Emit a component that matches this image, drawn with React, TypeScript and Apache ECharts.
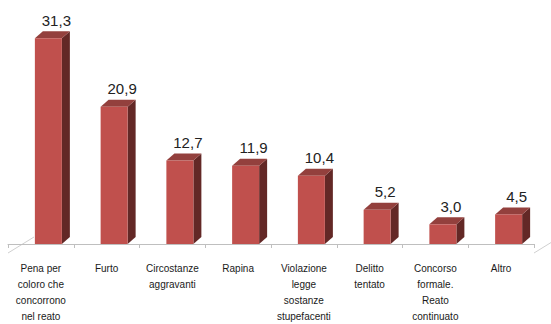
import React, { useEffect, useRef } from "react";
import * as echarts from "echarts";

const categories: string[] = [
  "Pena per\ncoloro che\nconcorrono\nnel reato",
  "Furto",
  "Circostanze\naggravanti",
  "Rapina",
  "Violazione\nlegge\nsostanze\nstupefacenti",
  "Delitto\ntentato",
  "Concorso\nformale.\nReato\ncontinuato",
  "Altro",
];
const values: number[] = [31.3, 20.9, 12.7, 11.9, 10.4, 5.2, 3.0, 4.5];

const FRONT = "#C0504D";
const TOP = "#93403D";
const SIDE = "#632826";

export default function App() {
  const ref = useRef<HTMLDivElement>(null);
  useEffect(() => {
    if (!ref.current) return;
    const chart = echarts.init(ref.current, null, { renderer: "svg" });
    const dx = 8;
    const dy = -7;
    const w = 27;
    chart.setOption({
      animation: false,
      backgroundColor: "#ffffff",
      grid: { left: 8, right: 17, top: 14, bottom: 76 },
      xAxis: {
        type: "category",
        data: categories,
        offset: 5,
        axisLine: { show: true, lineStyle: { color: "#bfbfbf", width: 1 } },
        axisTick: { show: true, length: 4, lineStyle: { color: "#bfbfbf" } },
        axisLabel: {
          interval: 0,
          margin: 11,
          fontSize: 10,
          lineHeight: 16,
          color: "#1a1a1a",
          fontFamily: "Liberation Sans, Arial, sans-serif",
        },
        splitLine: { show: false },
      },
      yAxis: {
        type: "value",
        min: 0,
        max: 35,
        show: false,
        splitLine: { show: false },
      },
      graphic: [
        {
          type: "line",
          shape: { x1: 8, y1: 253, x2: 34, y2: 237 },
          style: { stroke: "#d0d0d0", lineWidth: 1 },
        },
        {
          type: "line",
          shape: { x1: 534, y1: 253, x2: 560, y2: 237 },
          style: { stroke: "#d0d0d0", lineWidth: 1 },
        },
      ],
      series: [
        {
          type: "custom",
          data: values.map((v, i) => [i, v]),
          encode: { x: 0, y: 1 },
          renderItem: (params: any, api: any) => {
            const idx = api.value(0);
            const v = api.value(1);
            const base = api.coord([idx, 0]);
            const top = api.coord([idx, v]);
            const x0 = base[0] - 6;
            const x1 = x0 + w;
            const yt = top[1];
            const yb = base[1];
            return {
              type: "group",
              children: [
                {
                  type: "polygon",
                  shape: {
                    points: [
                      [x1, yt],
                      [x1 + dx, yt + dy],
                      [x1 + dx, yb + dy],
                      [x1, yb],
                    ],
                  },
                  style: { fill: SIDE },
                },
                {
                  type: "polygon",
                  shape: {
                    points: [
                      [x0, yt],
                      [x0 + dx, yt + dy],
                      [x1 + dx, yt + dy],
                      [x1, yt],
                    ],
                  },
                  style: { fill: TOP },
                },
                {
                  type: "rect",
                  shape: { x: x0, y: yt, width: w, height: yb - yt },
                  style: { fill: FRONT },
                },
                {
                  type: "text",
                  x: x0 + w / 2 + dx,
                  y: yt + dy - 11,
                  style: {
                    text: v.toFixed(1).replace(".", ","),
                    fill: "#222222",
                    font: "15px Liberation Sans, Arial, sans-serif",
                    align: "center",
                    verticalAlign: "middle",
                  },
                },
              ],
            };
          },
        },
      ],
    });
    return () => chart.dispose();
  }, []);
  return (
    <div
      ref={ref}
      style={{ width: 551, height: 324, position: "absolute", left: 0, top: 0 }}
    />
  );
}
